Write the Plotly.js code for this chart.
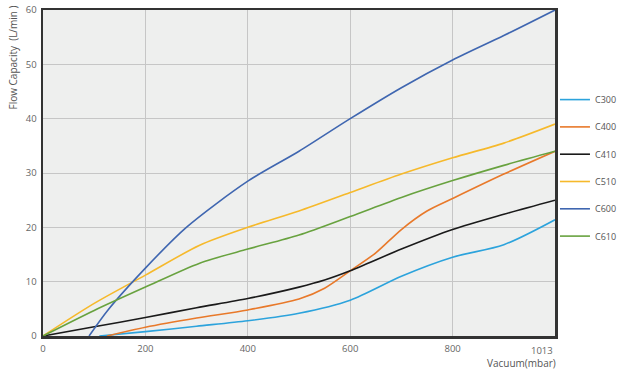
<!DOCTYPE html>
<html>
<head>
<meta charset="utf-8">
<script src="https://cdn.plot.ly/plotly-3.0.1.min.js"></script>
<style>html,body{margin:0;padding:0;background:#fff;}#chart{width:618px;height:370px;}</style>
</head>
<body>
<div id="chart"></div>
<script>
// Data (x = vacuum in mbar axis units, y = flow capacity L/min)
const seriesNames = ["C300", "C400", "C410", "C510", "C600", "C610"];
const seriesColors = ["#2ca3dc", "#e8792a", "#1a1a1a", "#f6b92b", "#3f66b0", "#68a23f"];

const c300X = [110, 200, 300, 400, 500, 600, 700, 800, 900, 1000];
const c300Y = [0, 0.8, 1.8, 2.8, 4.2, 6.6, 11, 14.5, 16.8, 21.4];

const c400X = [125, 200, 300, 400, 500, 550, 600, 650, 700, 750, 800, 900, 1000];
const c400Y = [0, 1.6, 3.3, 4.8, 6.8, 8.8, 12, 15.3, 19.6, 23, 25.3, 29.8, 34];

const c410X = [0, 100, 200, 300, 400, 500, 550, 600, 700, 800, 900, 1000];
const c410Y = [0, 1.7, 3.4, 5.2, 6.9, 9, 10.3, 12, 16, 19.6, 22.4, 25];

const c510X = [0, 100, 200, 306, 400, 500, 600, 700, 800, 900, 1000];
const c510Y = [0, 6, 11.2, 16.7, 20, 23, 26.4, 29.8, 32.8, 35.5, 39];

const c600X = [90, 127, 200, 280, 400, 500, 600, 700, 800, 900, 1000];
const c600Y = [0, 4.8, 12.5, 20, 28.5, 34, 40, 45.7, 50.8, 55.3, 60];

const c610X = [0, 100, 200, 306, 400, 500, 600, 700, 800, 900, 1000];
const c610Y = [0, 4.7, 9, 13.4, 16, 18.6, 22, 25.5, 28.6, 31.4, 34];

const xTickVals = [0, 200, 400, 600, 800];
const xTickText = ["0", "200", "400", "600", "800"];
const lastTickLabel = "1013";
const yTickVals = [0, 10, 20, 30, 40, 50, 60];

const allX = [c300X, c400X, c410X, c510X, c600X, c610X];
const allY = [c300Y, c400Y, c410Y, c510Y, c600Y, c610Y];

const traces = seriesNames.map((n, i) => ({
  type: "scatter", mode: "lines", name: n,
  x: allX[i], y: allY[i],
  line: {color: seriesColors[i], width: 1.6, shape: "spline", smoothing: 0.8},
  legendgroup: n,
  hoverinfo: "skip"
}));

const tickFont = {family: "Open Sans, Noto Sans, sans-serif", size: 9.5, color: "#666"};

const layout = {
  width: 618, height: 370,
  margin: {l: 43, r: 63, t: 10, b: 34, autoexpand: false},
  paper_bgcolor: "#ffffff",
  plot_bgcolor: "#eeefee",
  showlegend: true,
  legend: {
    xref: "container", yref: "container",
    x: 0.898, y: 0.77, xanchor: "left", yanchor: "top",
    font: {family: "Open Sans, Noto Sans, sans-serif", size: 9, color: "#555"},
    tracegroupgap: 8.3, bgcolor: "rgba(0,0,0,0)", itemwidth: 30
  },
  xaxis: {
    range: [0, 1000], tickvals: xTickVals, ticktext: xTickText,
    showgrid: true, gridcolor: "#c6c6c6", gridwidth: 1,
    showline: true, linecolor: "#333", linewidth: 2.5, mirror: true,
    zeroline: false, ticks: "", tickfont: tickFont, ticklabelstandoff: 2
  },
  yaxis: {
    range: [0, 60], tickvals: yTickVals,
    showgrid: true, gridcolor: "#c6c6c6", gridwidth: 1,
    showline: true, linecolor: "#333", linewidth: 2.5, mirror: true,
    zeroline: false, ticks: "", tickfont: tickFont, ticklabelstandoff: 2
  },
  annotations: [
    {text: lastTickLabel, xref: "x", yref: "paper", x: 1000, y: 0, yshift: -6,
     xanchor: "right", yanchor: "top", showarrow: false, font: tickFont},
    {text: "Vacuum(mbar)", xref: "paper", yref: "paper", x: 1.005, y: 0, yshift: -18,
     xanchor: "right", yanchor: "top", showarrow: false,
     font: {family: "Open Sans, Noto Sans, sans-serif", size: 10, color: "#555"}},
    {text: "Flow Capacity \u00a0(L/min )", xref: "paper", yref: "paper", x: 0, xshift: -39, y: 1.02,
     xanchor: "left", yanchor: "top", textangle: -90, showarrow: false,
     font: {family: "Open Sans, Noto Sans, sans-serif", size: 10, color: "#555"}}
  ]
};

Plotly.newPlot("chart", traces, layout, {displayModeBar: false, staticPlot: true});
</script>
</body>
</html>
